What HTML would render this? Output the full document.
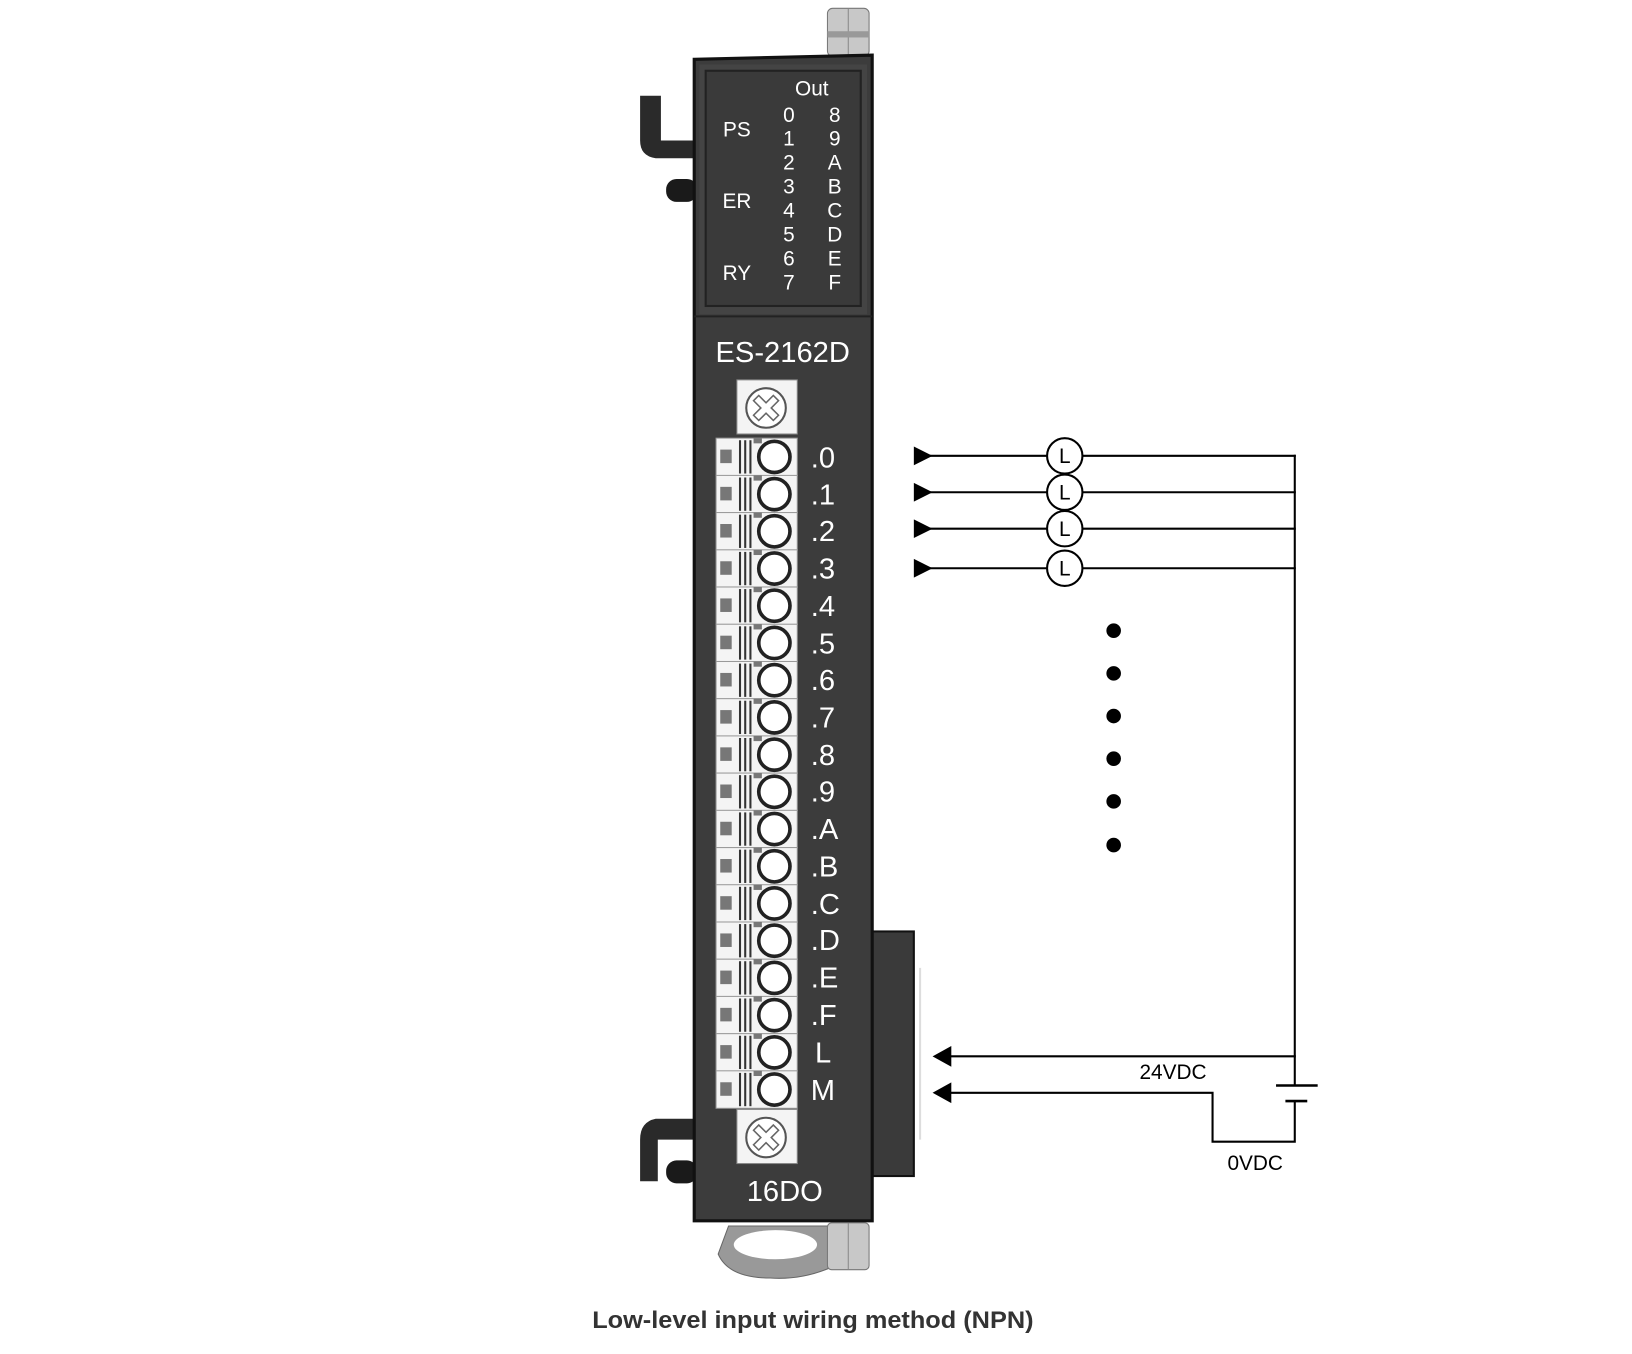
<!DOCTYPE html>
<html><head><meta charset="utf-8"><style>
html,body{margin:0;padding:0;background:#fff;}
svg{display:block;}
text{font-family:"Liberation Sans",sans-serif;}
</style></head><body>
<svg width="1632" height="1354" viewBox="0 0 1568 1301" preserveAspectRatio="none" xmlns="http://www.w3.org/2000/svg">
<defs>
<g id="row">
  <rect x="688" y="-18" width="78" height="36" fill="#f4f4f4" stroke="#999" stroke-width="1"/>
  <rect x="692" y="-7" width="11" height="13" fill="#777"/>
  <line x1="711" y1="-16" x2="711" y2="16" stroke="#333" stroke-width="2"/>
  <line x1="716" y1="-16" x2="716" y2="16" stroke="#333" stroke-width="2"/>
  <line x1="721" y1="-16" x2="721" y2="16" stroke="#333" stroke-width="2"/>
  <rect x="724" y="-18" width="8" height="5" fill="#777"/>
  <circle cx="744" cy="0" r="15" fill="#fff" stroke="#222" stroke-width="3.5"/>
</g>
<g id="scr">
  <circle cx="0" cy="0" r="19" fill="#fff" stroke="#555" stroke-width="2"/>
  <path d="M-12,-7 L-7,-12 L0,-5 L7,-12 L12,-7 L5,0 L12,7 L7,12 L0,5 L-7,12 L-12,7 L-5,0 Z" fill="#fff" stroke="#666" stroke-width="1.5"/>
</g>
</defs>

<rect x="795" y="8" width="40" height="46" rx="5" fill="#c8c8c8" stroke="#777"/>
<line x1="815" y1="8" x2="815" y2="54" stroke="#888"/>
<rect x="795" y="30" width="40" height="6" fill="#999"/>
<path d="M700,1178 L798,1178 L798,1218 Q770,1230 740,1228 Q700,1228 690,1205 Z" fill="#999" stroke="#666"/>
<ellipse cx="745" cy="1196" rx="40" ry="14" fill="#fff"/>
<rect x="795" y="1175" width="40" height="45" rx="4" fill="#c8c8c8" stroke="#777"/>
<line x1="815" y1="1175" x2="815" y2="1220" stroke="#888"/>
<path d="M615,92 L635,92 L635,135 L667,135 L667,152 L630,152 Q615,150 615,135 Z" fill="#2a2a2a"/>
<rect x="640" y="172" width="30" height="22" rx="10" fill="#1a1a1a"/>
<path d="M615,1135 L632,1135 L632,1095 L667,1095 L667,1075 L630,1075 Q615,1078 615,1095 Z" fill="#2a2a2a"/>
<rect x="640" y="1115" width="30" height="22" rx="10" fill="#1a1a1a"/>
<rect x="836" y="895" width="42" height="235" fill="#3a3a3a" stroke="#111" stroke-width="2"/>
<line x1="884" y1="930" x2="884" y2="1095" stroke="#ddd" stroke-width="2"/>
<path d="M667,57 L838,53 L838,1173 L667,1173 Z" fill="#3c3c3c" stroke="#111" stroke-width="3"/>
<rect x="672" y="62" width="161" height="240" fill="#444" />
<rect x="678" y="68" width="149" height="226" fill="#3a3a3a" stroke="#222" stroke-width="2"/>
<line x1="667" y1="304" x2="838" y2="304" stroke="#222" stroke-width="2"/>
<g fill="#fff" font-size="20">
<text x="780" y="92" text-anchor="middle">Out</text>
<text x="708" y="131" text-anchor="middle">PS</text>
<text x="708" y="200" text-anchor="middle">ER</text>
<text x="708" y="269" text-anchor="middle">RY</text>
<g text-anchor="middle">
<text x="758" y="117">0</text><text x="758" y="140">1</text><text x="758" y="163">2</text><text x="758" y="186">3</text>
<text x="758" y="209">4</text><text x="758" y="232">5</text><text x="758" y="255">6</text><text x="758" y="278">7</text>
<text x="802" y="117">8</text><text x="802" y="140">9</text><text x="802" y="163">A</text><text x="802" y="186">B</text>
<text x="802" y="209">C</text><text x="802" y="232">D</text><text x="802" y="255">E</text><text x="802" y="278">F</text>
</g>
</g>
<text x="752" y="348" fill="#fff" font-size="28" text-anchor="middle">ES-2162D</text>
<text x="754" y="1154" fill="#fff" font-size="28" text-anchor="middle">16DO</text>
<rect x="708" y="365" width="58" height="52" fill="#f4f4f4" stroke="#888"/>
<use href="#scr" x="736" y="392"/>
<rect x="708" y="1066" width="58" height="52" fill="#f4f4f4" stroke="#888"/>
<use href="#scr" x="736" y="1093"/>
<use href="#row" x="0" y="439"/><use href="#row" x="0" y="474.8"/><use href="#row" x="0" y="510.5"/>
<use href="#row" x="0" y="546.3"/><use href="#row" x="0" y="582"/><use href="#row" x="0" y="617.8"/>
<use href="#row" x="0" y="653.6"/><use href="#row" x="0" y="689.3"/><use href="#row" x="0" y="725.1"/>
<use href="#row" x="0" y="760.8"/><use href="#row" x="0" y="796.6"/><use href="#row" x="0" y="832.4"/>
<use href="#row" x="0" y="868.1"/><use href="#row" x="0" y="903.9"/><use href="#row" x="0" y="939.6"/>
<use href="#row" x="0" y="975.4"/><use href="#row" x="0" y="1011.2"/><use href="#row" x="0" y="1046.9"/>
<g fill="#fff" font-size="28">
<text x="779" y="449">.0</text><text x="779" y="485">.1</text><text x="779" y="520">.2</text>
<text x="779" y="556">.3</text><text x="779" y="592">.4</text><text x="779" y="628">.5</text>
<text x="779" y="663">.6</text><text x="779" y="699">.7</text><text x="779" y="735">.8</text>
<text x="779" y="770">.9</text><text x="779" y="806">.A</text><text x="779" y="842">.B</text>
<text x="779" y="878">.C</text><text x="779" y="913">.D</text><text x="779" y="949">.E</text>
<text x="779" y="985">.F</text><text x="783" y="1021">L</text><text x="779" y="1057">M</text>
</g>
<g stroke="#000" stroke-width="2" fill="none">
<line x1="893" y1="438" x2="1006" y2="438"/><line x1="1040" y1="438" x2="1245" y2="438"/>
<line x1="893" y1="473" x2="1006" y2="473"/><line x1="1040" y1="473" x2="1245" y2="473"/>
<line x1="893" y1="508" x2="1006" y2="508"/><line x1="1040" y1="508" x2="1245" y2="508"/>
<line x1="893" y1="546" x2="1006" y2="546"/><line x1="1040" y1="546" x2="1245" y2="546"/>
<line x1="1244" y1="437" x2="1244" y2="1043"/>
<circle cx="1023" cy="438" r="17"/><circle cx="1023" cy="473" r="17"/>
<circle cx="1023" cy="508" r="17"/><circle cx="1023" cy="546" r="17"/>
<line x1="905" y1="1015" x2="1245" y2="1015"/>
<polyline points="905,1050 1165,1050 1165,1097 1244,1097 1244,1058"/>
<line x1="1226" y1="1043" x2="1266" y2="1043" stroke-width="2.5"/>
<line x1="1235" y1="1058" x2="1256" y2="1058" stroke-width="2.5"/>
</g>
<g fill="#000">
<path d="M878,429 L896,438 L878,447 Z"/><path d="M878,464 L896,473 L878,482 Z"/>
<path d="M878,499 L896,508 L878,517 Z"/><path d="M878,537 L896,546 L878,555 Z"/>
<path d="M896,1015 L914,1005 L914,1025 Z"/><path d="M896,1050 L914,1040 L914,1060 Z"/>
<circle cx="1070" cy="606" r="7"/><circle cx="1070" cy="647" r="7"/><circle cx="1070" cy="688" r="7"/>
<circle cx="1070" cy="729" r="7"/><circle cx="1070" cy="770" r="7"/><circle cx="1070" cy="812" r="7"/>
</g>
<g font-size="20" fill="#000" text-anchor="middle">
<text x="1023" y="445">L</text><text x="1023" y="480">L</text><text x="1023" y="515">L</text><text x="1023" y="553">L</text>
<text x="1127" y="1037">24VDC</text>
<text x="1206" y="1124">0VDC</text>
</g>
<text x="781" y="1276" font-size="23" font-weight="bold" fill="#333" text-anchor="middle" textLength="424" lengthAdjust="spacingAndGlyphs">Low-level input wiring method (NPN)</text>
</svg>
</body></html>
